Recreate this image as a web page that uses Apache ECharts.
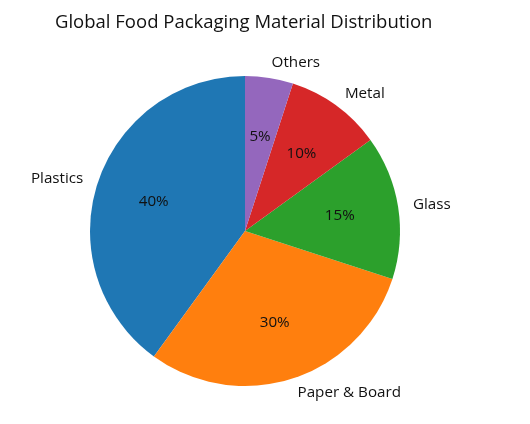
<!DOCTYPE html>
<html>
<head>
<meta charset="utf-8">
<script src="https://cdn.jsdelivr.net/npm/echarts@6/dist/echarts.min.js"></script>
<style>html,body{margin:0;padding:0;background:#fff;}#c{width:530px;height:424px;}</style>
</head>
<body>
<div id="c"></div>
<script>
var categories = ["Plastics", "Paper & Board", "Glass", "Metal", "Others"];
var shares = [40, 30, 15, 10, 5];
var colors = ["#1f77b4", "#ff7f0e", "#2ca02c", "#d62728", "#9467bd"];

var chart = echarts.init(document.getElementById('c'), null, {renderer: 'canvas'});
var font = '"Open Sans", "Noto Sans", sans-serif';
var R = 155;
var data = categories.map(function (c, i) {
  return { name: c, value: shares[i], itemStyle: { color: colors[i] } };
});
var dataInner = categories.map(function (c, i) {
  return { name: c, value: shares[i] };
});
chart.setOption({
  animation: false,
  backgroundColor: '#ffffff',
  title: {
    text: 'Global Food Packaging Material Distribution',
    left: 55, top: 13, padding: 0,
    textStyle: { fontFamily: font, fontSize: 18.5, fontWeight: 'normal', color: '#111' }
  },
  series: [
    {
      type: 'pie',
      center: [245, 231],
      radius: [0, R],
      startAngle: 90,
      clockwise: false,
      avoidLabelOverlap: false,
      silent: true,
      data: data,
      label: {
        show: true, position: 'outside', formatter: '{b}',
        fontFamily: font, fontSize: 15.2, color: '#111', alignTo: 'none', distanceToLabelLine: 0
      },
      labelLine: { show: false, length: 15, length2: 0 },
      itemStyle: { borderWidth: 0 }
    },
    {
      type: 'pie',
      center: [245, 231],
      radius: [0, R * 1.2],
      startAngle: 90,
      clockwise: false,
      avoidLabelOverlap: false,
      silent: true,
      data: dataInner,
      itemStyle: { color: 'rgba(0,0,0,0)', borderWidth: 0 },
      label: {
        show: true, position: 'inside', formatter: '{c}%',
        fontFamily: font, fontSize: 15.2, color: '#111'
      },
      labelLine: { show: false }
    }
  ]
});
</script>
</body>
</html>
